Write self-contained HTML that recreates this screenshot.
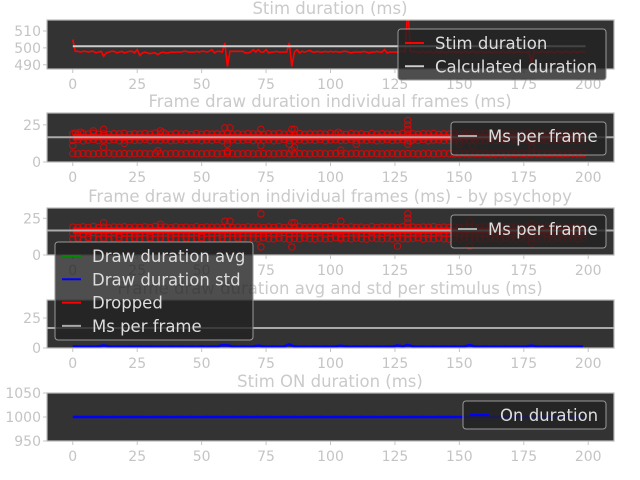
<!DOCTYPE html>
<html><head><meta charset="utf-8"><style>
html,body{margin:0;padding:0;background:#fff;}
svg{display:block;font-family:"DejaVu Sans","Liberation Sans",sans-serif;}
</style></head><body>
<svg id="fig" width="640" height="480" viewBox="0 0 640 480"></svg>
<script>
const xTicks=[0,25,50,75,100,125,150,175,200];
const stim=[505,498,498,497.5,498,498,497.5,498,498,497,
497.5,498,495,497,497.5,498,498,497,497.5,498,
497,497.5,498,498,497,499,495.5,497,497.5,497,
496.5,497,497,496,497,497.5,497,497,497.5,497.5,
497.5,497.5,497.5,498,498,497.5,497.5,497.5,498,497.5,
498,498,497.5,498,499,497,498,498,497.5,503,
489,498,498,498,498,498,498,497,497,497.5,
499,497.5,499,497.5,497.5,499,497,497.5,497.5,498,
497.5,497.5,497.5,497.5,503,489,497.5,499,497,498,
497.5,498,498.5,497.5,497.5,498,497.5,497.5,498,497.5,
498,497.5,498,497.5,497.5,498,498,497.5,497,497.5,
497.5,497.5,497.5,498,497.5,497,497.5,497.5,498,497.5,
497.5,499,497,497.5,497.5,497.5,497.5,498,498,497.5,
525,498,497.5,498,497,497.5,498,497,498,497.5,
497,498,497,498,497.5,497,498,497.5,498,497,
498,497,498,497.5,497,498,497.5,497,498,497.5,
497,498,497.5,497,498,497,497.5,498,497,497.5,
498,497,497.5,498,497,497.5,497,498,491,498,
497.5,497,498,497.5,497,498,497.5,497,498,497.5,
497,498,497.5,497,498,497.5,497,498,497.5,498];
const calcDur=501;
const msPerFrame=16.67;
const p2Top=[19,18.6,19.2,18.8,19.4,18.7,19,18.5,19.1,18.9,19.3,18.6,19,18.8,19.2,18.7,19.5,18.9,19,18.6,19.2,18.8,19,18.5,19.3,18.7,19.1,18.9,19,18.6,19.4,18.8,19,18.7,19.2,18.9,19,18.6,19.1,18.8,19.3,18.7,19,18.9,19.2,18.6,19,18.8,19.1,18.7,19.4,18.9,19,18.6,19.2,18.8,19,18.5,19.3,18.7,19.1,18.9,19,18.6,19.2,18.8,19,18.7,19.1,18.9,19.3,18.6,19,18.8,19.2,18.7,19,18.9,19.1,18.6,19.2,18.8,19,18.7,19.3,18.9,19,18.6,19.1,18.8,19.2,18.7,19,18.9,19.1,18.6,19,18.8,19.2,18.7];
const p2Bot=[14.5,15,14.2,14.8,15.2,14.4,14.9,14.6,15.1,14.3,14.8,15,14.5,14.7,15.2,14.4,14.9,14.6,15,14.3,14.7,15.1,14.5,14.8,15,14.4,14.9,14.6,15.2,14.3,14.8,15,14.5,14.7,15.1,14.4,14.9,14.6,15,14.3,14.7,15.2,14.5,14.8,15,14.4,14.9,14.6,15.1,14.3,14.8,15,14.5,14.7,15.2,14.4,14.9,14.6,15,14.3,14.7,15.1,14.5,14.8,15,14.4,14.9,14.6,15.2,14.3,14.8,15,14.5,14.7,15.1,14.4,14.9,14.6,15,14.3,14.7,15.2,14.5,14.8,15,14.4,14.9,14.6,15.1,14.3,14.8,15,14.5,14.7,15.2,14.4,14.9,14.6,15,14.3];
const p2Low=[5.6,5.5,5.8,5.6,5.5,5.7,5.6,5.9,5.5,5.6,5.7,5.5,5.6,5.8,5.6,5.5,5.7,5.6,5.5,5.6,5.8,5.5,5.6,5.7,5.6,5.5,5.6,5.8,5.5,5.6,5.7,5.6,5.5,5.6,5.8,5.5,5.6,5.7,5.6,5.5,5.6,5.8,5.5,5.6,5.7,5.6,5.5,5.6,5.8,5.5,5.6,5.7,5.6,5.5,5.6,5.8,5.5,5.6,5.7,5.6,5.5,5.6,5.8,5.5,5.6,5.7,5.6,5.5,5.6,5.8,5.5,5.6,5.7,5.6,5.5,5.6,5.8,5.5,5.6,5.7,5.6,5.5,5.6,5.8,5.5,5.6,5.7,5.6,5.5,5.6,5.8,5.5,5.6,5.7,5.6,5.5,5.6,5.8,5.5,5.6];
const p2OutX=[0,1,3,8,12,12,20,34,35,33,59,61,60,60,73,73,85,86,84,85,86,103,104,110,130,130,130,130,131,150,153,155,177,178,178];
const p2OutY=[11,19.5,20,21,22,10,12.5,21,20,7.5,23,23,12,7,22,11,22,22,12,8,10,20,8,12,28,25,22,12,14,12,20,11,20,15,10];
const p3Low=[11,11.5,10.8,12,11.2,11,11.6,10.9,11.3,12,11.1,10.8,11.5,11.2,11,11.8,10.9,11.4,11,11.6,11.2,10.8,11.5,11,11.3,11.9,10.9,11.2,11,11.5,11.1,10.8,11.6,11.2,11,11.4,10.9,11.7,11.1,11,11.5,11.2,10.8,11.3,11,11.6,11.1,10.9,11.4,11,11.2,11.8,10.9,11.3,11,11.5,11.1,10.8,11.6,11.2,11,11.4,10.9,11.5,11.1,11,11.3,11.7,10.8,11.2,11,11.5,11.1,10.9,11.4,11,11.6,11.2,10.8,11.3,11,11.5,11.1,10.9,11.7,11.2,11,11.4,10.8,11.3,11,11.5,11.1,10.9,11.6,11.2,11,11.4,10.8,11.2];
const p3OutX=[12,34,59,61,73,73,85,86,85,104,104,126,130,130,130,154,154,178,178];
const p3OutY=[22,21,23,23,28,5.5,22,22,5.5,23,12,6,28,25,22,23,6,8,21];
const avgVals=[16.7,16.7,16.8,16.7,16.7,16.7,16.8,16.7,16.7,16.7,16.7,16.8,16.7,16.7,16.7,16.7,16.8,16.7,16.7,16.7,16.7,16.7,16.8,16.7,16.7,16.7,16.7,16.7,16.8,16.7,16.7,16.7,16.7,16.7,16.7,16.8,16.7,16.7,16.7,16.7,16.7,16.8,16.7,16.7,16.7,16.7,16.7,16.7,16.8,16.7,16.7,16.7,16.7,16.7,16.8,16.7,16.7,16.7,16.7,16.7,16.8,16.7,16.7,16.7,16.7,16.7,16.7,16.8,16.7,16.7,16.7,16.7,16.7,16.8,16.7,16.7,16.7,16.7,16.7,16.7,16.8,16.7,16.7,16.7,16.7,16.8,16.7,16.7,16.7,16.7,16.7,16.7,16.8,16.7,16.7,16.7,16.7,16.7,16.7,16.7];
const stdVals=[1.5,1.3,1.2,1.3,1.2,1.3,2.2,1.3,1.2,1.3,1.2,1.3,1.2,1.3,1.2,1.3,1.2,1.3,1.2,1.3,1.2,1.3,1.2,1.3,1.2,1.3,1.2,1.3,1.2,2.4,2.2,1.3,1.2,1.3,1.2,1.3,2.0,1.3,1.2,1.3,1.2,1.3,3.0,1.3,1.2,1.3,1.2,1.3,1.2,1.3,1.2,1.3,1.8,1.3,1.2,1.3,1.2,1.3,1.2,1.3,1.2,1.3,1.2,2.2,1.3,2.6,1.3,1.2,1.3,1.2,1.3,1.2,1.3,1.2,1.3,1.2,1.3,2.5,1.3,1.2,1.3,1.2,1.3,1.2,1.3,1.2,1.3,1.2,1.3,2.0,1.3,1.2,1.3,1.2,1.3,1.2,1.3,1.2,1.3,1.2];
const droppedVals=[0,0,0,0,0,0,0,0,0,0,0,0,0,0,0,0,0,0,0,0,0,0,0,0,0,0,0,0,0,0,0,0,0,0,0,0,0,0,0,0,0,0,0,0,0,0,0,0,0,0,0,0,0,0,0,0,0,0,0,0,0,0,0,0,0,0,0,0,0,0,0,0,0,0,0,0,0,0,0,0,0,0,0,0,0,0,0,0,0,0,0,0,0,0,0,0,0,0,0,0];
const onDur=[1000,1000.3,1000.1,1000.2,1000,1000.3,1000.1,1000,1000.2,1000.1,1000,1000.3,1000.1,1000.2,1000,1000.1,1000.3,1000,1000.2,1000.1,1000,1000.3,1000.1,1000.2,1000,1000.1,1000.3,1000,1000.2,1000.1,1000,1000.3,1000.1,1000.2,1000,1000.1,1000.3,1000,1000.2,1000.1,1000,1000.3,1000.1,1000.2,1000,1000.1,1000.3,1000,1000.2,1000.1,1000,1000.3,1000.1,1000.2,1000,1000.1,1000.3,1000,1000.2,1000.1,1000,1000.3,1000.1,1000.2,1000,1000.1,1000.3,1000,1000.2,1000.1,1000,1000.3,1000.1,1000.2,1000,1000.1,1000.3,1000,1000.2,1000.1,1000,1000.3,1000.1,1000.2,1000,1000.1,1000.3,1000,1000.2,1000.1,1000,1000.3,1000.1,1000.2,1000,1000.1,1000.3,1000,1000.2,1000.1];

const NS='http://www.w3.org/2000/svg';
const svg=document.getElementById('fig');
function mk(tag,attrs,parent){const e=document.createElementNS(NS,tag);for(const k in attrs)e.setAttribute(k,attrs[k]);(parent||svg).appendChild(e);return e;}
const AX_L=47,AX_R=614;
function sx(v){return AX_L+(v+10)/220*(AX_R-AX_L);}
const GRAY='#c4c4c4';

function panel(i,top,h,ymin,ymax,yticks,title){
  const g=mk('g',{});
  
  
  const sy=v=>top+h-(v-ymin)/(ymax-ymin)*h;
  const bg=mk('rect',{x:AX_L,y:top,width:AX_R-AX_L,height:h,fill:'#333'},g);
  
  
  const t=mk('text',{x:330,y:top-6,'text-anchor':'middle','font-size':16.5,fill:'#cacaca'},g);
  t.textContent=title;
  
  
  xTicks.forEach(v=>{
    const x=sx(v);
    mk('line',{x1:x,x2:x,y1:top+h,y2:top+h+4,stroke:GRAY},g);
    const tx=mk('text',{x:x,y:top+h+20,'text-anchor':'middle','font-size':14,fill:GRAY},g);
    tx.textContent=v;
    
    
  });
  yticks.forEach(v=>{
    const y=sy(v);
    mk('line',{x1:AX_L-4,x2:AX_L,y1:y,y2:y,stroke:GRAY},g);
    const ty=mk('text',{x:AX_L-6,y:y+5,'text-anchor':'end','font-size':14,fill:GRAY},g);
    ty.textContent=v;
    
    
  });
  const clip=mk('clipPath',{id:'c'+i},g);
  mk('rect',{x:AX_L,y:top,width:AX_R-AX_L,height:h},clip);
  const pg=mk('g',{'clip-path':'url(#c'+i+')'},g);
  return {g,pg,sy,top,h};
}
function line(p,xs,ys,color,w,name){
  const d=xs.map((x,k)=>(k?'L':'M')+sx(x).toFixed(1)+' '+p.sy(ys[k]).toFixed(1)).join('');
  const e=mk('path',{d:d,fill:'none',stroke:color,'stroke-width':w},p.pg);
  
  
  return e;
}
function circles(p,xs,ys,name){
  xs.forEach((x,k)=>{
    const c=mk('circle',{cx:sx(x),cy:p.sy(ys[k]),r:3.2,fill:'none',stroke:'#e00','stroke-width':1,opacity:0.85},p.pg);
    
    
  });
}
function border(p){mk('rect',{x:AX_L,y:p.top,width:AX_R-AX_L,height:p.h,fill:'none',stroke:'#bbb','stroke-width':1.2},p.g);}
function legend(x,y,w,h,items,name){
  const g=mk('g',{});
  
  
  mk('rect',{x:x,y:y,width:w,height:h,rx:3,fill:'#222','fill-opacity':0.8,stroke:'#999'},g);
  items.forEach((it,k)=>{
    const cy=y+14+k*23.3;
    mk('line',{x1:x+7,x2:x+26,y1:cy,y2:cy,stroke:it[1],'stroke-width':2},g);
    const t=mk('text',{x:x+37,y:cy+6,'font-size':16.5,fill:'#ddd'},g);
    t.textContent=it[0];
    
    
  });
}
const idx=stim.map((_,k)=>k);
const idx2=p2Top.map((_,k)=>k*2);

const p1=panel(1,20,49,487.5,516.5,[490,500,510],'Stim duration (ms)');
line(p1,idx,stim,'#f00',1.6,'stim-duration-line');
line(p1,[0,199],[calcDur,calcDur],'#ccc',2,'calculated-duration-line');
border(p1);

const p2=panel(2,113,49,0,33,[0,25],'Frame draw duration individual frames (ms)');
circles(p2,idx2,p2Top,'frame-point');
circles(p2,idx2,p2Bot,'frame-point');
circles(p2,idx2,p2Low,'frame-point');
circles(p2,p2OutX,p2OutY,'frame-outlier');
line(p2,[0,199],[16.7,16.7],'#f00',6,'frame-band');
line(p2,[-10,210],[msPerFrame,msPerFrame],'#aaa',2,'ms-per-frame-line');
border(p2);

const p3=panel(3,208,47,0,32,[0,25],'Frame draw duration individual frames (ms) - by psychopy');
circles(p3,idx2,p2Top,'frame-point');
circles(p3,idx2,p2Bot,'frame-point');
circles(p3,idx2,p3Low,'frame-point');
circles(p3,p3OutX,p3OutY,'frame-outlier');
line(p3,[0,199],[16.7,16.7],'#f00',6,'frame-band');
line(p3,[-10,210],[msPerFrame,msPerFrame],'#aaa',2,'ms-per-frame-line');
border(p3);

const p4=panel(4,300,48,0,40,[0,25],'Frame draw duration avg and std per stimulus (ms)');
line(p4,idx2,avgVals,'#080',1.5,'draw-duration-avg-line');
line(p4,idx2,droppedVals,'#f00',2,'dropped-line');
line(p4,idx2,stdVals,'#00f',2.5,'draw-duration-std-line');
line(p4,[-10,210],[msPerFrame,msPerFrame],'#aaa',2,'ms-per-frame-line');
border(p4);

const p5=panel(5,393,48,950,1050,[950,1000,1050],'Stim ON duration (ms)');
line(p5,idx2,onDur,'#00f',2.5,'on-duration-line');
border(p5);

legend(398,29,208,51,[['Stim duration','#f00'],['Calculated duration','#ccc']],'legend-stim');
legend(451,122,155,33,[['Ms per frame','#aaa']],'legend-frames');
legend(451,215,155,33,[['Ms per frame','#aaa']],'legend-psychopy');
legend(55,242,198,98,[['Draw duration avg','#080'],['Draw duration std','#00f'],['Dropped','#f00'],['Ms per frame','#aaa']],'legend-avg-std');
legend(463,401,143,28,[['On duration','#00f']],'legend-on');
</script>
</body></html>
